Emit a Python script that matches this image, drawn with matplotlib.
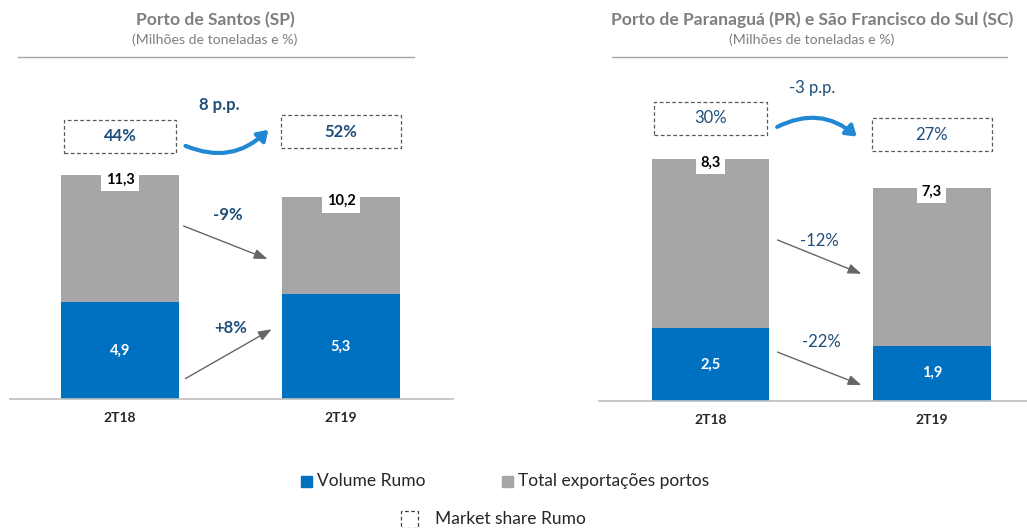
import matplotlib
matplotlib.use("Agg")
import matplotlib.pyplot as plt
from matplotlib.patches import Rectangle, FancyArrowPatch
from matplotlib.lines import Line2D
from matplotlib.transforms import blended_transform_factory

plt.rcParams["font.family"] = ["Lato", "DejaVu Sans"]

# ------------------------------------------------------------------ #
#  Data                                                                #
# ------------------------------------------------------------------ #
periods = ["2T18", "2T19"]

santos_rumo = [4.9, 5.3]
santos_total = [11.3, 10.2]
santos_share = [44, 52]
santos_share_delta = "8 p.p."
santos_changes = ["-9%", "+8%"]  # total, rumo

parana_rumo = [2.5, 1.9]
parana_total = [8.3, 7.3]
parana_share = [30, 27]
parana_share_delta = "-3 p.p."
parana_changes = ["-12%", "-22%"]

BLUE = "#0070C0"
GRAY = "#A6A6A6"
DARK_BLUE = "#1F4E79"
ARROW_BLUE = "#2388D4"
TITLE_GRAY = "#7F7F7F"
TEXT = "#262626"

W, H = 1027, 528


def fx(px):
    return px / W


def fy(py):
    return 1 - py / H


def fmt(v):
    return f"{v:.1f}".replace(".", ",")


fig = plt.figure(figsize=(W / 100, H / 100), dpi=100)
fig.patch.set_facecolor("white")


def draw_panel(rect, xlim, ylim, rumo, total, share, share_boxes, delta,
               delta_pos, curve, rad, changes, change_arrows, bold):
    ax = fig.add_axes(rect)
    x = list(range(len(periods)))
    rest = [t - r for t, r in zip(total, rumo)]
    width = 0.53
    ax.bar(x, rumo, width=width, color=BLUE)
    ax.bar(x, rest, width=width, bottom=rumo, color=GRAY)
    ax.set_xlim(*xlim)
    ax.set_ylim(*ylim)
    for s in ["top", "right", "left"]:
        ax.spines[s].set_visible(False)
    ax.spines["bottom"].set_color("#BFBFBF")
    ax.spines["bottom"].set_linewidth(1.2)
    ax.set_yticks([])
    ax.set_xticks(x)
    ax.set_xticklabels(periods, fontsize=10, color=TEXT, fontweight="bold")
    ax.tick_params(axis="x", length=0, pad=9)

    wt = "bold" if bold else "normal"
    for i in x:
        ax.text(i, rumo[i] / 2, fmt(rumo[i]), ha="center", va="center",
                color="white", fontsize=10.5, fontweight="bold")
        ax.annotate(fmt(total[i]), (i, total[i]), xytext=(0, -3),
                    textcoords="offset points", ha="center", va="center",
                    fontsize=10.5, fontweight="bold", color="black",
                    bbox=dict(boxstyle="square,pad=0.3", fc="white", ec="none"))

    # market share boxes
    tr = blended_transform_factory(ax.transData, ax.transAxes)
    for i, (bw, y0, y1) in enumerate(share_boxes):
        ax.add_patch(Rectangle((i - bw / 2, y0), bw, y1 - y0, transform=tr,
                               fill=False, ec="#595959", lw=0.9, ls=(0, (3, 2)),
                               clip_on=False))
        ax.text(i, (y0 + y1) / 2, f"{share[i]}%", transform=tr, ha="center",
                va="center", fontsize=12, color=DARK_BLUE, fontweight=wt)
    ax.text(delta_pos[0], delta_pos[1], delta, transform=tr, ha="center",
            va="center", fontsize=12, color=DARK_BLUE, fontweight=wt)
    ax.add_patch(FancyArrowPatch(curve[0], curve[1], transform=tr,
                                 connectionstyle=f"arc3,rad={rad}",
                                 arrowstyle="-|>,head_length=6,head_width=4",
                                 color=ARROW_BLUE, lw=3, clip_on=False))

    # change arrows
    for label, (p0, p1, tpos) in zip(changes, change_arrows):
        ax.annotate("", xy=p1, xytext=p0,
                    arrowprops=dict(arrowstyle="-|>,head_length=0.8,head_width=0.3",
                                    color="#666666", lw=1))
        ax.text(tpos[0], tpos[1], label, ha="center", va="center",
                fontsize=12, color=DARK_BLUE, fontweight=wt)
    return ax


# left panel: baseline y=399 px, top y=60 px
draw_panel(
    rect=[fx(10), fy(399), fx(443), (399 - 60) / H],
    xlim=(-0.498, 1.507), ylim=(0, 339 / 19.8),
    rumo=santos_rumo, total=santos_total, share=santos_share,
    share_boxes=[(0.51, 0.726, 0.823), (0.54, 0.740, 0.838)],
    delta=santos_share_delta, delta_pos=(0.45, 0.867),
    curve=[(0.285, 0.75), (0.68, 0.80)], rad=0.35,
    changes=santos_changes,
    change_arrows=[((0.276, 8.79), (0.679, 7.02), (0.49, 9.3)),
                   ((0.285, 0.96), (0.697, 3.59), (0.50, 3.6))],
    bold=True,
)

# right panel: baseline y=401 px
draw_panel(
    rect=[fx(599), fy(401), fx(428), (401 - 60) / H],
    xlim=(-0.503, 1.429), ylim=(0, 341 / 29.2),
    rumo=parana_rumo, total=parana_total, share=parana_share,
    share_boxes=[(0.51, 0.780, 0.877), (0.54, 0.733, 0.830)],
    delta=parana_share_delta, delta_pos=(0.46, 0.918),
    curve=[(0.29, 0.80), (0.67, 0.77)], rad=-0.35,
    changes=parana_changes,
    change_arrows=[((0.291, 5.55), (0.693, 4.32), (0.49, 5.48)),
                   ((0.291, 1.71), (0.693, 0.51), (0.50, 2.02))],
    bold=False,
)

# titles
for cx, x0, x1, title in [(215, 18, 414, "Porto de Santos (SP)"),
                          (812, 612, 1007, "Porto de Paranaguá (PR) e São Francisco do Sul (SC)")]:
    fig.text(fx(cx), fy(20), title, ha="center", va="center", fontsize=12.6,
             fontweight="bold", color=TITLE_GRAY)
    fig.text(fx(cx), fy(40), "(Milhões de toneladas e %)", ha="center",
             va="center", fontsize=10.2, color=TITLE_GRAY)
    fig.add_artist(Line2D([fx(x0), fx(x1)], [fy(57), fy(57)], color="#A6A6A6",
                          lw=1, transform=fig.transFigure))

# legend
fig.add_artist(Rectangle((fx(301), fy(487)), fx(11), 11 / H, color=BLUE,
                         transform=fig.transFigure))
fig.text(fx(317), fy(481), "Volume Rumo", ha="left", va="center",
         fontsize=12.5, color=TEXT)
fig.add_artist(Rectangle((fx(502), fy(487)), fx(11), 11 / H, color=GRAY,
                         transform=fig.transFigure))
fig.text(fx(518), fy(481), "Total exportações portos", ha="left",
         va="center", fontsize=12.5, color=TEXT)
fig.add_artist(Rectangle((fx(401), fy(528)), fx(17), 17 / H, fill=False,
                         ec="#404040", lw=0.9, ls=(0, (3, 2)),
                         transform=fig.transFigure))
fig.text(fx(435), fy(519), "Market share Rumo", ha="left", va="center",
         fontsize=12.5, color=TEXT)

fig.savefig("out.png", dpi=100)
